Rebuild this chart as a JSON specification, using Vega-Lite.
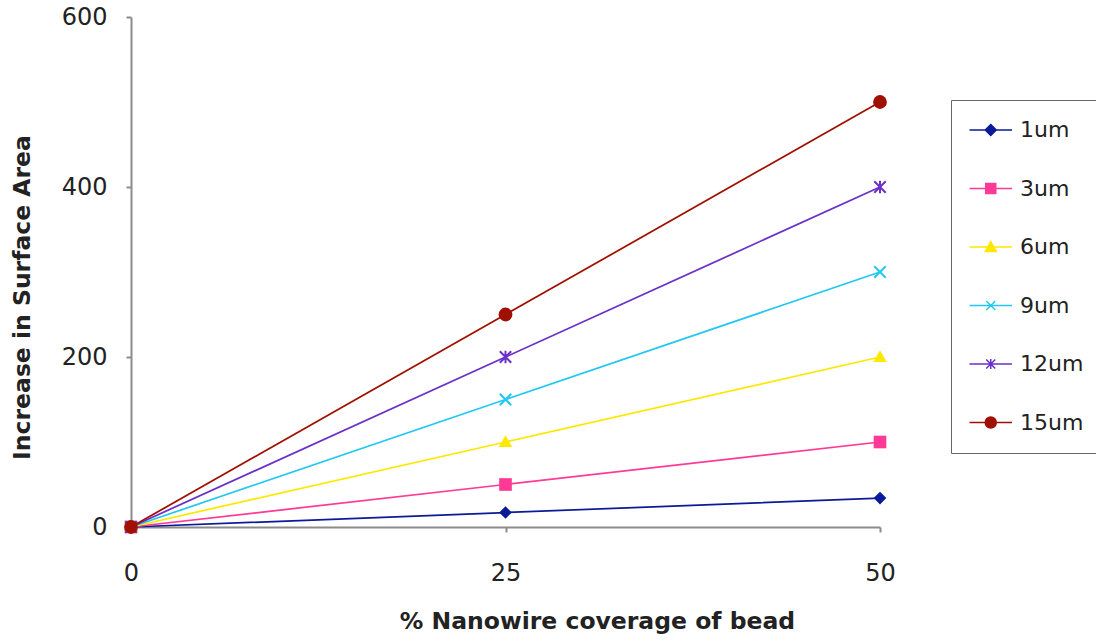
{
  "$schema": "https://vega.github.io/schema/vega-lite/v6.json",
  "autosize": "none",
  "width": 749,
  "height": 510,
  "padding": {"left": 131, "top": 17, "right": 216, "bottom": 113},
  "background": "white",
  "data": {
    "values": [
      {"series": "1um", "coverage": 0, "increase": 0},
      {"series": "1um", "coverage": 25, "increase": 17},
      {"series": "1um", "coverage": 50, "increase": 34},
      {"series": "3um", "coverage": 0, "increase": 0},
      {"series": "3um", "coverage": 25, "increase": 50},
      {"series": "3um", "coverage": 50, "increase": 100},
      {"series": "6um", "coverage": 0, "increase": 0},
      {"series": "6um", "coverage": 25, "increase": 100},
      {"series": "6um", "coverage": 50, "increase": 200},
      {"series": "9um", "coverage": 0, "increase": 0},
      {"series": "9um", "coverage": 25, "increase": 150},
      {"series": "9um", "coverage": 50, "increase": 300},
      {"series": "12um", "coverage": 0, "increase": 0},
      {"series": "12um", "coverage": 25, "increase": 200},
      {"series": "12um", "coverage": 50, "increase": 400},
      {"series": "15um", "coverage": 0, "increase": 0},
      {"series": "15um", "coverage": 25, "increase": 250},
      {"series": "15um", "coverage": 50, "increase": 500}
    ]
  },
  "encoding": {
    "x": {
      "field": "coverage", "type": "quantitative",
      "scale": {"domain": [0, 50], "nice": false, "zero": false},
      "axis": {
        "title": "% Nanowire coverage of bead",
        "values": [0, 25, 50],
        "labelPadding": 29,
        "titleX": 466,
        "titleY": 101,
        "titleAlign": "center",
        "titleBaseline": "alphabetic"
      }
    },
    "y": {
      "field": "increase", "type": "quantitative",
      "scale": {"domain": [0, 600], "nice": false},
      "axis": {
        "title": "Increase in Surface Area",
        "values": [0, 200, 400, 600],
        "labelPadding": 19,
        "titleX": -102,
        "titleY": 280,
        "titleAngle": -90,
        "titleAlign": "center",
        "titleBaseline": "alphabetic"
      }
    }
  },
  "layer": [
    {
      "transform": [{"filter": {"field": "series", "equal": "1um"}}],
      "layer": [
        {"mark": {"type": "line", "strokeWidth": 1.75, "color": "#0a1a99"}},
        {"mark": {"type": "point", "shape": "diamond", "filled": true, "size": 160, "color": "#0a1a99", "opacity": 1}}
      ]
    },
    {
      "transform": [{"filter": {"field": "series", "equal": "3um"}}],
      "layer": [
        {"mark": {"type": "line", "strokeWidth": 1.75, "color": "#ff3a96"}},
        {"mark": {"type": "point", "shape": "square", "filled": true, "size": 160, "color": "#ff3a96", "opacity": 1}}
      ]
    },
    {
      "transform": [{"filter": {"field": "series", "equal": "6um"}}],
      "layer": [
        {"mark": {"type": "line", "strokeWidth": 1.75, "color": "#ffe800"}},
        {"mark": {"type": "point", "shape": "M0,-1.15L1.15,0.85H-1.15Z", "filled": true, "size": 140, "color": "#ffe800", "opacity": 1}}
      ]
    },
    {
      "transform": [{"filter": {"field": "series", "equal": "9um"}}],
      "layer": [
        {"mark": {"type": "line", "strokeWidth": 1.75, "color": "#22c8f2"}},
        {"mark": {"type": "point", "shape": "M-1,-1L1,1M-1,1L1,-1", "filled": false, "size": 130, "strokeWidth": 2, "color": "#22c8f2", "opacity": 1}}
      ]
    },
    {
      "transform": [{"filter": {"field": "series", "equal": "12um"}}],
      "layer": [
        {"mark": {"type": "line", "strokeWidth": 1.75, "color": "#6a30c8"}},
        {"mark": {"type": "point", "shape": "M-1,-1L1,1M-1,1L1,-1M0,-1.1V1.1", "filled": false, "size": 130, "strokeWidth": 2, "color": "#6a30c8", "opacity": 1}}
      ]
    },
    {
      "transform": [{"filter": {"field": "series", "equal": "15um"}}],
      "layer": [
        {"mark": {"type": "line", "strokeWidth": 1.75, "color": "#a01000"}},
        {"mark": {"type": "point", "shape": "circle", "filled": true, "size": 190, "color": "#a01000", "opacity": 1}}
      ]
    },
    {
      "mark": {"type": "point", "filled": true, "opacity": 0},
      "encoding": {
        "color": {
          "field": "series", "type": "nominal",
          "scale": {
            "domain": ["1um", "3um", "6um", "9um", "12um", "15um"],
            "range": ["#0a1a99", "#ff3a96", "#ffe800", "#22c8f2", "#6a30c8", "#a01000"]
          }
        },
        "stroke": {
          "field": "series", "type": "nominal",
          "scale": {
            "domain": ["1um", "3um", "6um", "9um", "12um", "15um"],
            "range": ["#0a1a99", "#ff3a96", "#ffe800", "#22c8f2", "#6a30c8", "#a01000"]
          }
        },
        "shape": {
          "field": "series", "type": "nominal",
          "scale": {
            "domain": ["1um", "3um", "6um", "9um", "12um", "15um"],
            "range": [
              "M-2.3,0H6.2M1.95,-1.1L3.05,0L1.95,1.1L0.85,0Z",
              "M-2.3,0H6.2M0.95,-1H2.95V1H0.95Z",
              "M-2.3,0H6.2M1.95,-1.1L3.05,0.9H0.85Z",
              "M-2.3,0H6.2M1.05,-0.9L2.85,0.9M1.05,0.9L2.85,-0.9",
              "M-2.3,0H6.2M1.05,-0.9L2.85,0.9M1.05,0.9L2.85,-0.9M1.95,-1V1",
              "M-2.3,0H6.2M0.85,0A1.1,1.1,0,1,0,3.05,0A1.1,1.1,0,1,0,0.85,0Z"
            ]
          }
        }
      }
    }
  ],
  "config": {
    "view": {"stroke": null},
    "font": "DejaVu Sans",
    "axis": {
      "grid": false,
      "labelFlush": false,
      "domainColor": "#8c8c8c",
      "domainWidth": 2,
      "tickColor": "#8c8c8c",
      "tickWidth": 2,
      "tickSize": 5,
      "labelFont": "DejaVu Sans",
      "labelFontSize": 24,
      "labelColor": "#222222",
      "titleFont": "DejaVu Sans",
      "titleFontSize": 23.5,
      "titleFontWeight": "bold",
      "titleColor": "#222222"
    },
    "legend": {
      "orient": "none",
      "legendX": 820,
      "legendY": 83,
      "title": null,
      "strokeColor": "#666666",
      "padding": 19,
      "rowPadding": 36.5,
      "symbolSize": 100,
      "symbolStrokeWidth": 1.5,
      "symbolOpacity": 1,
      "labelOffset": 28,
      "labelFont": "DejaVu Sans",
      "labelFontSize": 22,
      "labelColor": "#222222"
    }
  }
}
